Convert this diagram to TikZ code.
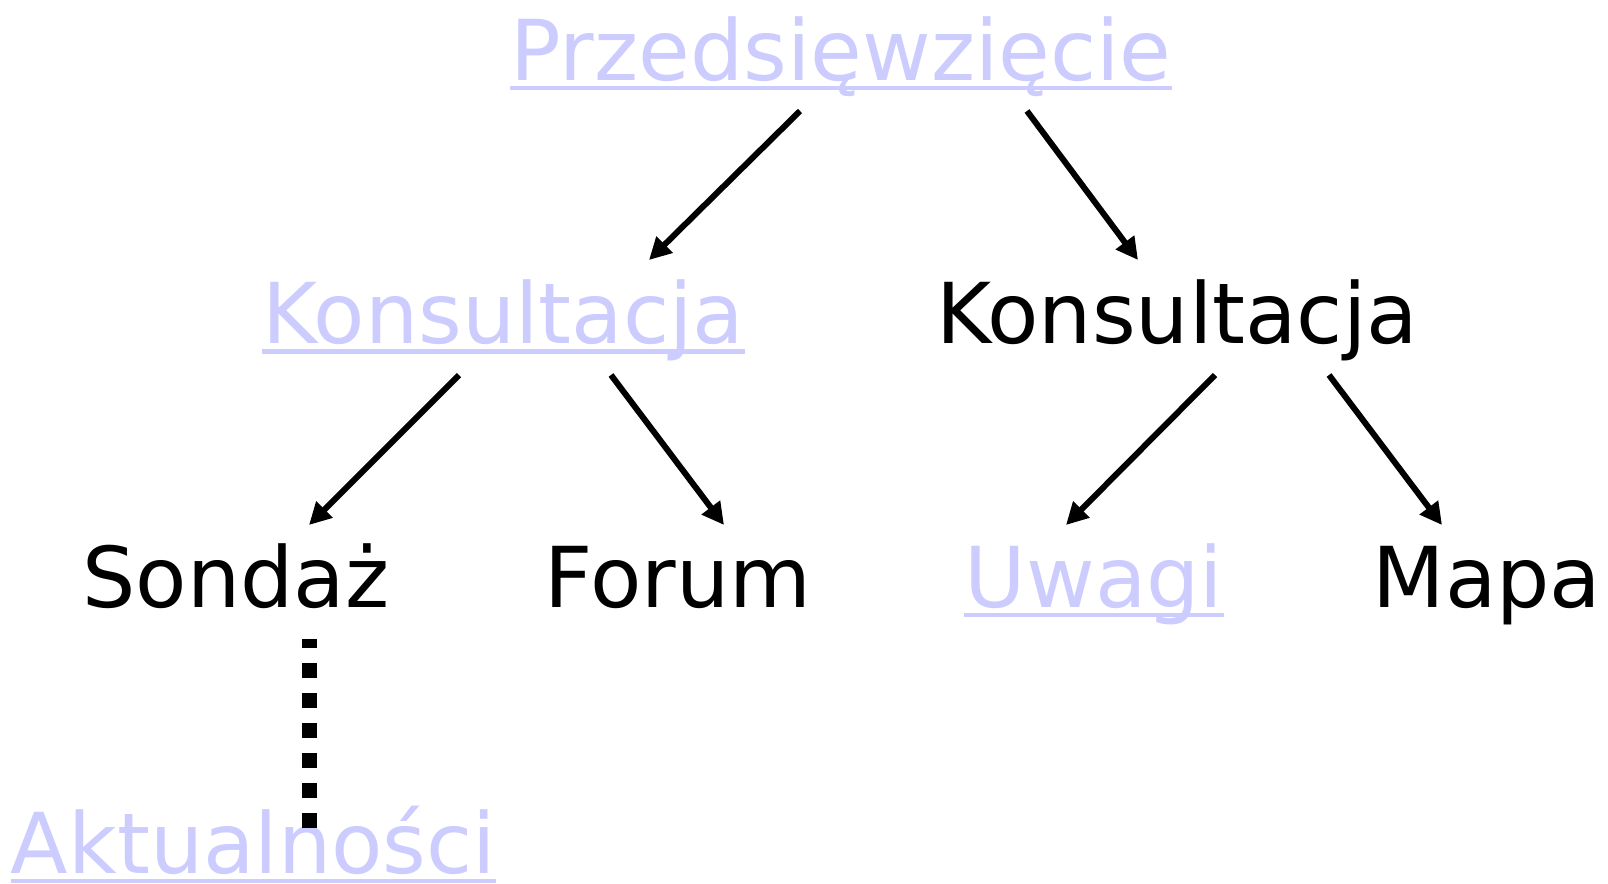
\documentclass[tikz,border=0pt]{standalone}
\usepackage{fontspec}
\setmainfont{DejaVu Sans}
\usepackage{xcolor}
\usepackage{tikz}
\usetikzlibrary{arrows.meta}

\definecolor{linkc}{RGB}{204,204,255}

\begin{document}
\begin{tikzpicture}[
    x = .5pt,
    y = -.5pt,
    font = \fontsize{42}{50}\selectfont,
    linkf/.style = {
      text=linkc,
      inner sep=0pt,
      anchor=base
    },
    plainf/.style = {
      text=black,
      inner sep=0pt,
      anchor=base
    },
    undera/.style = {
      draw=linkc,
      line width=2.2pt
    },
    arrowa/.style = {
      draw=black,
      line width=3pt,
      -{Triangle[length=11pt,width=11pt]}
    },
    dotsa/.style = {
      draw=black,
      line width=7.5pt,
      dash pattern=on 7.5pt off 7.5pt
    }
  ]
    \useasboundingbox (0,0) rectangle (1608,884);

    \node[linkf] (przed) at (841,80) {Przedsięwzięcie};
    \node[linkf] (kons1) at (503.5,343.5) {Konsultacja};
    \node[plainf] (kons2) at (1177,343.5) {Konsultacja};
    \node[plainf] (sondaz) at (236,607) {Sondaż};
    \node[plainf] (forum) at (678,607) {Forum};
    \node[linkf] (uwagi) at (1094,607) {Uwagi};
    \node[plainf] (mapa) at (1487,607) {Mapa};
    \node[linkf] (aktual) at (253.5,873) {Aktualności};

    % underlines of the links
    \draw[undera] ([shift={(0,8)}]przed.base west) -- ([shift={(0,8)}]przed.base east);
    \draw[undera] ([shift={(0,8)}]kons1.base west) -- ([shift={(0,8)}]kons1.base east);
    \draw[undera] ([shift={(0,8)}]uwagi.base west) -- ([shift={(0,8)}]uwagi.base east);
    \draw[undera] ([shift={(0,8)}]aktual.base west) -- ([shift={(0,8)}]aktual.base east);

    \draw[arrowa] ([shift={(-41,31)}]przed.base) -- ([shift={(145.5,-83.5)}]kons1.base);
    \draw[arrowa] ([shift={(186,31)}]przed.base) -- ([shift={(-39,-83.5)}]kons2.base);
    \draw[arrowa] ([shift={(-44.5,31.5)}]kons1.base) -- ([shift={(73,-82)}]sondaz.base);
    \draw[arrowa] ([shift={(107.5,31.5)}]kons1.base) -- ([shift={(46,-82)}]forum.base);
    \draw[arrowa] ([shift={(38,31.5)}]kons2.base) -- ([shift={(-28,-82)}]uwagi.base);
    \draw[arrowa] ([shift={(152,31.5)}]kons2.base) -- ([shift={(-45,-82)}]mapa.base);

    \draw[dotsa] ([shift={(55.5,-45)}]aktual.base) -- ([shift={(73,32)}]sondaz.base);

  \end{tikzpicture}
\end{document}
